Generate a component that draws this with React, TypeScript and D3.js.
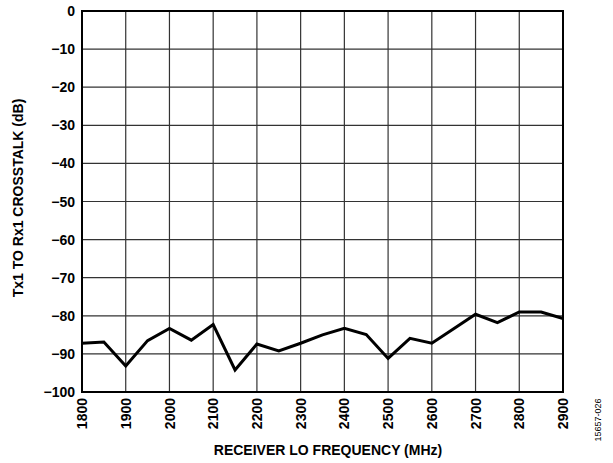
import React from "react";
import * as d3 from "d3";

const freqs = [1800, 1850, 1900, 1950, 2000, 2050, 2100, 2150, 2200, 2250, 2300, 2350, 2400, 2450, 2500, 2550, 2600, 2650, 2700, 2750, 2800, 2850, 2900];
const crosstalk = [-87.2, -86.9, -93.2, -86.5, -83.3, -86.4, -82.3, -94.2, -87.4, -89.2, -87.2, -85.0, -83.3, -84.9, -91.2, -85.9, -87.2, -83.4, -79.6, -81.8, -79.0, -79.0, -80.7];
const xTicks = [1800, 1900, 2000, 2100, 2200, 2300, 2400, 2500, 2600, 2700, 2800, 2900];
const yTicks = [0, -10, -20, -30, -40, -50, -60, -70, -80, -90, -100];

const W = 613, H = 463;
const m = { left: 82, right: 563, top: 11, bottom: 392 };

export default function App() {
  const x = d3.scaleLinear().domain([1800, 2900]).range([m.left, m.right]);
  const y = d3.scaleLinear().domain([-100, 0]).range([m.bottom, m.top]);
  const line = d3.line<number>().x((_, i) => x(freqs[i])).y((d) => y(d));
  const fmt = (v: number) => (v < 0 ? "\u2212" + Math.abs(v) : String(v));
  const font = "'Liberation Sans', Arial, sans-serif";
  return (
    <svg width={W} height={H} style={{ position: "absolute", left: 0, top: 0 }} fontFamily={font}>
      <rect width={W} height={H} fill="#fff" />
      {xTicks.map((t) => (
        <line key={"gx" + t} x1={x(t)} x2={x(t)} y1={m.top} y2={m.bottom} stroke="#333" strokeWidth={1.2} />
      ))}
      {yTicks.map((t) => (
        <line key={"gy" + t} x1={m.left} x2={m.right} y1={y(t)} y2={y(t)} stroke="#333" strokeWidth={1.2} />
      ))}
      <rect x={m.left} y={m.top} width={m.right - m.left} height={m.bottom - m.top} fill="none" stroke="#000" strokeWidth={2} />
      <path d={line(crosstalk) || ""} fill="none" stroke="#000" strokeWidth={3} strokeLinejoin="miter" />
      {yTicks.map((t) => (
        <text key={"ty" + t} x={m.left - 7} y={y(t)} dy="0.36em" textAnchor="end" fontSize={14} fontWeight="bold">
          {fmt(t)}
        </text>
      ))}
      {xTicks.map((t) => (
        <text key={"tx" + t} transform={`translate(${x(t)},${m.bottom + 6}) rotate(-90)`} textAnchor="end" dy="0.36em" fontSize={14} fontWeight="bold">
          {t}
        </text>
      ))}
      <text x={328} y={455} textAnchor="middle" fontSize={14} fontWeight="bold">
        RECEIVER LO FREQUENCY (MHz)
      </text>
      <text transform={`translate(23,${198}) rotate(-90)`} textAnchor="middle" fontSize={14} fontWeight="bold">
        Tx1 TO Rx1 CROSSTALK (dB)
      </text>
      <text transform={`translate(601,420) rotate(-90)`} textAnchor="middle" fontSize={9}>
        15657-026
      </text>
    </svg>
  );
}
